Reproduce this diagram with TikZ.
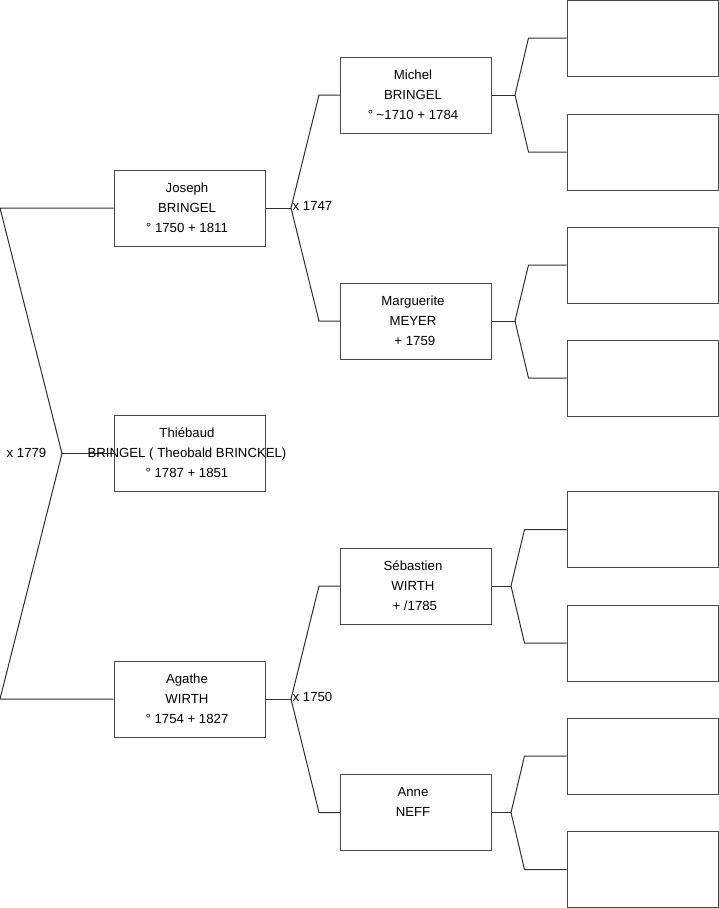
\documentclass[tikz,border=0pt]{standalone}
\usepackage{fontspec}
\setmainfont{Liberation Sans}
\begin{document}
\begin{tikzpicture}[x=1pt,y=-1pt,
  pbox/.style={draw=black!72, line width=1pt, minimum width=151pt, minimum height=76pt, inner sep=0pt},
  ptext/.style={anchor=north, align=center, inner sep=0pt, font=\fontsize{13.2}{20}\selectfont},
  lbl/.style={inner sep=0pt, font=\fontsize{13.2}{15}\selectfont},
  conn/.style={draw=black!82, line width=1pt}]
\useasboundingbox (0,0) rectangle (719,908);

% generation 1
\node[pbox] (T) at (189.5,453.5) {};
% generation 2
\node[pbox] (J) at (189.5,208) {};
\node[pbox] (A) at (189.5,699) {};
% generation 3
\node[pbox] (M) at (416,95) {};
\node[pbox] (G) at (416,321) {};
\node[pbox] (S) at (416,586) {};
\node[pbox] (N) at (416,812.5) {};
% generation 4
\node[pbox] (r1) at (642.5,38) {};
\node[pbox] (r2) at (642.5,152) {};
\node[pbox] (r3) at (642.5,265) {};
\node[pbox] (r4) at (642.5,378) {};
\node[pbox] (r5) at (642.5,529.5) {};
\node[pbox] (r6) at (642.5,643) {};
\node[pbox] (r7) at (642.5,756) {};
\node[pbox] (r8) at (642.5,869.5) {};

% joints
\coordinate (R1) at (0,208);
\coordinate (R2) at (0,699);
\coordinate (T0) at (62,453.5);
\coordinate (J0) at (291,208);
\coordinate (A0) at (291,699);
\coordinate (M0) at (515,95);
\coordinate (G0) at (515,321);
\coordinate (S0) at (511,586);
\coordinate (N0) at (511,812.5);

% connectors
\draw[conn] (J.west) -- (R1) -- (T0) -- (R2) -- (A.west);
\draw[conn] (T0) -- (T.west);
\draw[conn] (J.east) -- (J0);
\draw[conn] (J0) -- ([xshift=-21pt]M.west) -- (M.west);
\draw[conn] (J0) -- ([xshift=-21pt]G.west) -- (G.west);
\draw[conn] (A.east) -- (A0);
\draw[conn] (A0) -- ([xshift=-21pt]S.west) -- (S.west);
\draw[conn] (A0) -- ([xshift=-21pt]N.west) -- (N.west);
\draw[conn] (M.east) -- (M0);
\draw[conn] (M0) -- ([xshift=-38pt]r1.west) -- (r1.west);
\draw[conn] (M0) -- ([xshift=-38pt]r2.west) -- (r2.west);
\draw[conn] (G.east) -- (G0);
\draw[conn] (G0) -- ([xshift=-38pt]r3.west) -- (r3.west);
\draw[conn] (G0) -- ([xshift=-38pt]r4.west) -- (r4.west);
\draw[conn] (S.east) -- (S0);
\draw[conn] (S0) -- ([xshift=-42pt]r5.west) -- (r5.west);
\draw[conn] (S0) -- ([xshift=-42pt]r6.west) -- (r6.west);
\draw[conn] (N.east) -- (N0);
\draw[conn] (N0) -- ([xshift=-42pt]r7.west) -- (r7.west);
\draw[conn] (N0) -- ([xshift=-42pt]r8.west) -- (r8.west);

% texts
\node[ptext] (tT) at ([xshift=-2.5pt,yshift=-8.5pt]T.north) {\strut Thiébaud\\BRINGEL ( Theobald BRINCKEL)\\° 1787 + 1851};
\node[ptext] (tJ) at ([xshift=-2.5pt,yshift=-8.5pt]J.north) {\strut Joseph\\BRINGEL\\° 1750 + 1811};
\node[ptext] (tA) at ([xshift=-2.5pt,yshift=-8.5pt]A.north) {\strut Agathe\\WIRTH\\° 1754 + 1827};
\node[ptext] (tM) at ([xshift=-3pt,yshift=-8.5pt]M.north) {\strut Michel\\BRINGEL\\° \textasciitilde1710 + 1784};
\node[ptext] (tG) at ([xshift=-3pt,yshift=-8.5pt]G.north) {\strut Marguerite\\MEYER\\\ + 1759};
\node[ptext] (tS) at ([xshift=-3pt,yshift=-8.5pt]S.north) {\strut Sébastien\\WIRTH\\\ + /1785};
\node[ptext] (tN) at ([xshift=-3pt,yshift=-8.5pt]N.north) {\strut Anne\\NEFF};

% marriage labels
\node[lbl, anchor=base east] (m1) at (46.5,457.5) {x 1779};
\node[lbl, anchor=base west] (m2) at (292.5,210.5) {x 1747};
\node[lbl, anchor=base west] (m3) at (292.5,701.5) {x 1750};
\end{tikzpicture}
\end{document}
